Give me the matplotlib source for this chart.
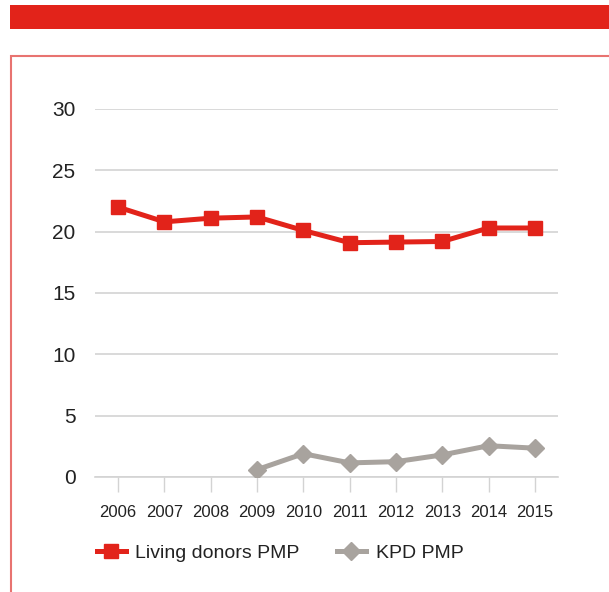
import numpy as np
import matplotlib.pyplot as plt
from matplotlib.patches import Rectangle

years = ["2006", "2007", "2008", "2009", "2010", "2011", "2012", "2013", "2014", "2015"]
living_pmp = [22.0, 20.8, 21.1, 21.2, 20.1, 19.1, 19.15, 19.2, 20.3, 20.3]
kpd_years = ["2009", "2010", "2011", "2012", "2013", "2014", "2015"]
kpd_pmp = [0.6, 1.9, 1.15, 1.25, 1.8, 2.55, 2.35]
y_ticks = [0, 5, 10, 15, 20, 25, 30]

RED = "#E2231A"
GREY = "#A8A39E"
GRID = "#D3D3D3"

plt.rcParams['font.family'] = ['Liberation Sans', 'DejaVu Sans']

W, H = 609, 592
fig = plt.figure(figsize=(W / 100, H / 100), dpi=100)

# top banner and the framed panel underneath it
fig.patches.append(Rectangle((10 / W, 1 - 29 / H), 1, 24 / H, transform=fig.transFigure,
                             facecolor=RED, edgecolor="none"))
fig.patches.append(Rectangle((11 / W, -0.1), 1, 1 - 56 / H + 0.1, transform=fig.transFigure,
                             facecolor="none", edgecolor="#E87370", linewidth=1.5))

ax = fig.add_axes([95 / W, 1 - 477 / H, 463 / W, 368 / H])

x = np.arange(len(years))
kx = np.array([years.index(y) for y in kpd_years])

ax.plot(x, living_pmp, color=RED, linewidth=3.6, marker="s", markersize=9.5,
        label="Living donors PMP", zorder=3)
ax.plot(kx, kpd_pmp, color=GREY, linewidth=3.6, marker="D", markersize=9,
        label="KPD PMP", zorder=3)

ax.set_xlim(-0.5, len(years) - 0.5)
ax.set_ylim(0, 30)
ax.set_yticks(y_ticks)
ax.set_xticks(x)
ax.set_xticklabels(years, fontsize=12, color="#222222")
ax.tick_params(axis="y", length=0, pad=14, labelsize=15, labelcolor="#222222")
ax.tick_params(axis="x", length=11, width=1, color=GRID, pad=9)
ax.yaxis.grid(True, color=GRID, linewidth=1.2)
ax.set_axisbelow(True)
for side in ["top", "right", "left"]:
    ax.spines[side].set_visible(False)
ax.spines["bottom"].set_color(GRID)
ax.spines["bottom"].set_linewidth(1.2)

fig.legend(loc="center left", bbox_to_anchor=(79 / W, 1 - 553 / H), ncol=2,
           frameon=False, fontsize=14, handlelength=1.5, columnspacing=1.9,
           handletextpad=0.5, labelcolor="#222222")

fig.savefig("out.png", dpi=100)
